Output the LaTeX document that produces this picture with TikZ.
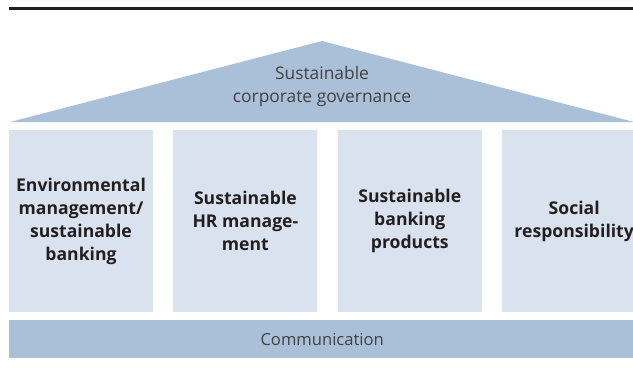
\documentclass[tikz,border=0pt]{standalone}
\usepackage{fontspec}
\setmainfont{Open Sans}
\usepackage{tikz}
\usetikzlibrary{positioning}

\definecolor{roofblue}{HTML}{A9C0D8}
\definecolor{pillarblue}{HTML}{D9E2EE}
\definecolor{textgray}{HTML}{231F20}

\tikzset{
	pillar/.style={fill=pillarblue, minimum width=144pt, minimum height=182pt, inner sep=0pt,
		align=center, font=\fontsize{17.6}{23}\selectfont\bfseries, text=textgray},
	basebar/.style={fill=roofblue, minimum width=636pt, minimum height=38pt, inner sep=0pt,
		font=\fontsize{16.6}{20}\selectfont, text=textgray!85},
}

\begin{document}
\begin{tikzpicture}[x=1pt,y=-1pt]
			
			\useasboundingbox (0,0) rectangle (633,372);
			
			% rule on top
			\fill[textgray] (9,7) rectangle (645,10);
			
			% roof
			\fill[roofblue] (10,122) -- (322,41) -- (634,122) -- cycle;
			\node[align=center, font=\fontsize{17.4}{23}\selectfont, text=textgray!85] (gov) at (322,86) {Sustainable\\corporate governance};
			
			% the four pillars
			\node[pillar] (env) at (81,221) {Environmental\\management/\\sustainable\\banking};
			\node[pillar, right=20pt of env] (hr) {Sustainable\\HR manage-\\ment};
			\node[pillar, right=20pt of hr] (prod) {Sustainable\\banking\\products};
			\node[pillar, right=20pt of prod] (social) {Social\\responsibility};
			
			% base
			\node[basebar, anchor=north west] (comm) at (9,320) {\hspace*{-10pt}Communication};
			
\end{tikzpicture}
\end{document}
